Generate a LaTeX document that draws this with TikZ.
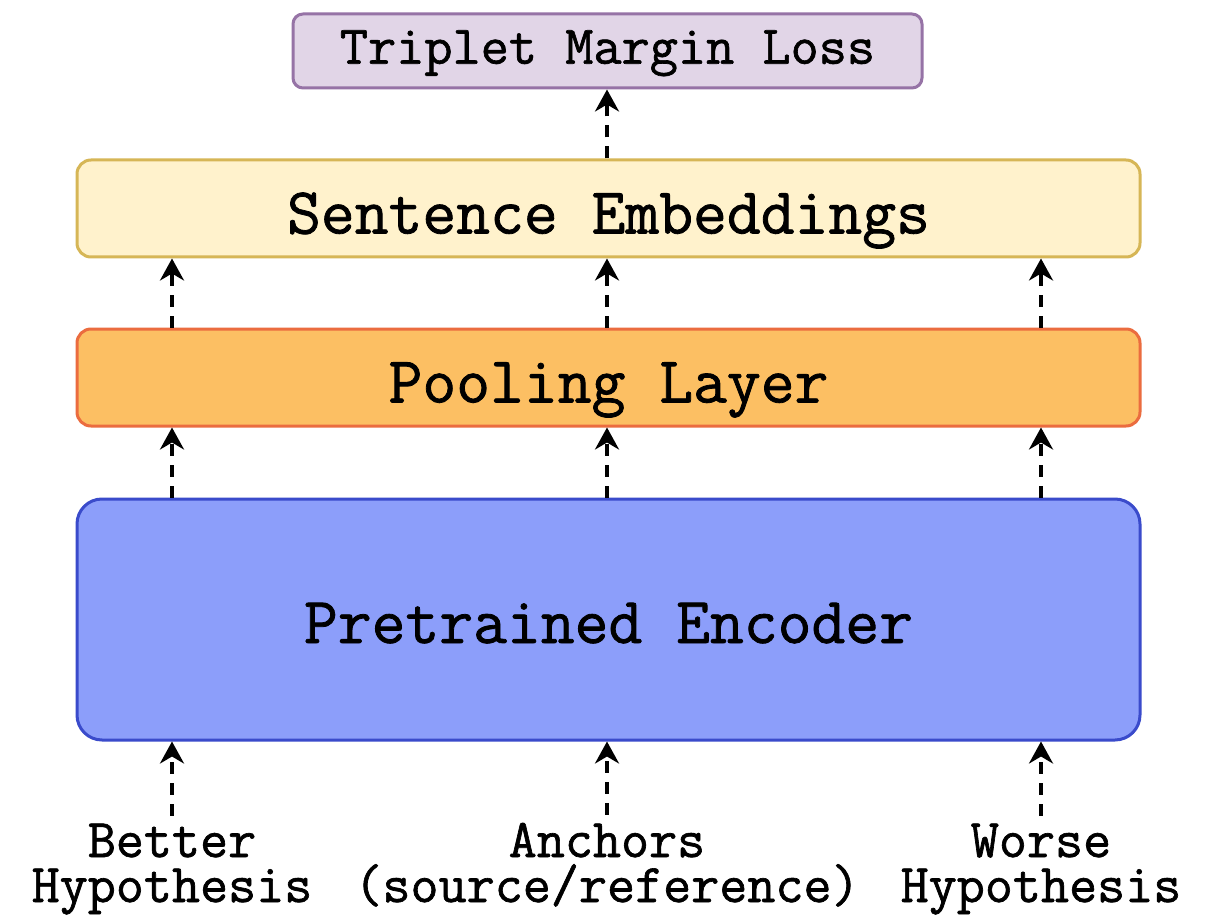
\documentclass[tikz,border=0pt]{standalone}
\usepackage{fontspec}
\newfontfamily\boxtt{Latin Modern Mono}[FakeBold=1.2]
\usetikzlibrary{arrows.meta}
\definecolor{lossfill}{HTML}{E1D5E7}
\definecolor{lossdraw}{HTML}{9673A6}
\definecolor{embfill}{HTML}{FFF2CC}
\definecolor{embdraw}{HTML}{D6B656}
\definecolor{poolfill}{HTML}{FCBF63}
\definecolor{pooldraw}{HTML}{EB6C3F}
\definecolor{encfill}{HTML}{8C9EFA}
\definecolor{encdraw}{HTML}{3A4BCB}
\tikzset{
  layerbox/.style={draw, line width=3pt, inner sep=0pt, text depth=0pt, text height=50pt,
    font=\boxtt\fontsize{65.7}{66}\selectfont},
  inlabel/.style={inner sep=0pt, anchor=base, font=\boxtt\fontsize{54.5}{55}\selectfont},
  arr/.style={line width=3.5pt, dash pattern=on 12pt off 9pt, -{Stealth[length=22pt,width=24pt,inset=7pt]}},
}
\begin{document}
\begin{tikzpicture}[x=1pt,y=-1pt]
\useasboundingbox[fill=white] (0,0) rectangle (1212,917);
\node[layerbox, fill=lossfill, draw=lossdraw, rounded corners=10pt, minimum width=629pt, minimum height=74pt,
      text height=25.4pt, font=\boxtt\fontsize{54.7}{55}\selectfont] (loss) at (607.5,51) {Triplet Margin Loss};
\node[layerbox, fill=embfill, draw=embdraw, rounded corners=14pt, minimum width=1063pt, minimum height=97pt] (emb) at (608.5,208.5) {Sentence Embeddings};
\node[layerbox, fill=poolfill, draw=pooldraw, rounded corners=14pt, minimum width=1063pt, minimum height=97pt] (pool) at (608.5,377.5) {Pooling Layer};
\node[layerbox, fill=encfill, draw=encdraw, rounded corners=25pt, minimum width=1063pt, minimum height=241pt, text height=47pt] (enc) at (608.5,619.5) {Pretrained Encoder};
\node[inlabel] (lab1) at (172,857) {Better};
\node[inlabel] (lab1b) at (172,902) {Hypothesis};
\node[inlabel] (lab2) at (607,857) {Anchors};
\node[inlabel] (lab2b) at (607,902) {(source/reference)};
\node[inlabel] (lab3) at (1041,857) {Worse};
\node[inlabel] (lab3b) at (1041,902) {Hypothesis};
\foreach \l in {lab1,lab2,lab3}{
  \draw[arr] ([yshift=8pt]\l.north) -- (\l.north |- enc.south);
  \draw[arr] (\l.north |- enc.north) -- (\l.north |- pool.south);
  \draw[arr] (\l.north |- pool.north) -- (\l.north |- emb.south);
}
\draw[arr] (lab2.north |- emb.north) -- (lab2.north |- loss.south);
\end{tikzpicture}
\end{document}
